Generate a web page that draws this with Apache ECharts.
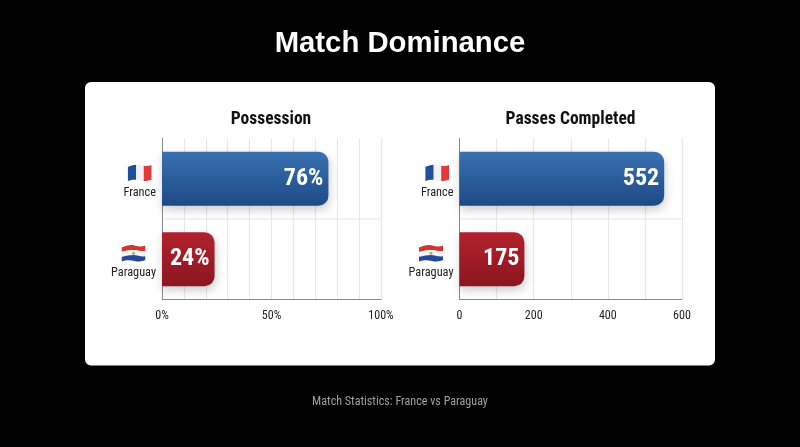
<!DOCTYPE html>
<html><head><meta charset="utf-8">
<style>html,body{margin:0;padding:0;background:#000}#c{width:800px;height:447px}</style>
<script src="https://cdn.jsdelivr.net/npm/echarts@6/dist/echarts.min.js"></script>
</head><body><div id="c"></div>
<script>
const categories = ['France', 'Paraguay'];
const possession = [76, 24];
const passes = [552, 175];
const possessionTicks = [0, 50, 100];
const passesTicks = [0, 200, 400, 600];
const COND = '"Roboto Condensed","Liberation Sans Narrow","Roboto",sans-serif';

const svg = s => 'data:image/svg+xml;charset=utf-8,' + encodeURIComponent(s);
const clip = '<clipPath id="w"><path d="M1 3.5C6 1.5 10 .5 14 1.5S21 3 25 1.5V16C21 17.5 18 18 14 17S6 15.5 1 17.5Z"/></clipPath>';
const frFlag = svg('<svg xmlns="http://www.w3.org/2000/svg" width="52" height="40" viewBox="0 0 26 19.5">' + clip +
  '<g clip-path="url(#w)"><rect width="9.5" height="20" fill="#1f4f9c"/><rect x="9.5" width="7.5" height="20" fill="#f2f2f4"/><rect x="17" width="9" height="20" fill="#e23a3a"/></g></svg>');
const pyFlag = svg('<svg xmlns="http://www.w3.org/2000/svg" width="52" height="40" viewBox="0 0 26 19.5">' + clip +
  '<g clip-path="url(#w)"><path d="M0 -1H26V7.2C20 7.8 17 6 13 6S5 7 0 8.2Z" fill="#d3362f"/><path d="M0 8.2C5 7 9 6 13 6S20 7.8 26 7.2V12.2C20 13 17 11 13 11S5 12 0 13Z" fill="#f4f4f6"/><path d="M0 13C5 12 9 11 13 11S20 13 26 12.2V20H0Z" fill="#24489a"/><circle cx="13" cy="9.2" r="1.5" fill="#b9a96a"/></g></svg>');

function catAxis(grid) {
  return {
    type: 'category', gridIndex: grid, data: categories, inverse: true,
    axisLine: { show: true, lineStyle: { color: '#8a8a8a', width: 1 } },
    axisTick: { show: false },
    splitLine: { show: true, showMinLine: false, showMaxLine: false, lineStyle: { color: '#eeeeee', width: 1.5 } },
    axisLabel: {
      margin: 6, align: 'right', verticalAlign: 'middle',
      formatter: v => '{gap|}\n{' + (v === 'France' ? 'fr' : 'py') + '|}\n{name|' + v + '}',
      rich: {
        gap: { height: 8, lineHeight: 8, fontSize: 1 },
        fr: { width: 26, height: 20, align: 'center', backgroundColor: { image: frFlag } },
        py: { width: 26, height: 20, align: 'center', backgroundColor: { image: pyFlag } },
        name: { fontFamily: COND, fontSize: 12.3, color: '#222', lineHeight: 19, align: 'right' }
      }
    }
  };
}
function valAxis(grid, max, step, ticks, suffix) {
  return {
    type: 'value', gridIndex: grid, min: 0, max: max, interval: step,
    axisLine: { show: true, lineStyle: { color: '#8a8a8a', width: 1 } },
    axisTick: { show: false },
    splitLine: { show: true, lineStyle: { color: '#e8e8e8', width: 1.2 } },
    axisLabel: {
      show: true, margin: 10, fontFamily: COND, fontSize: 12, color: '#222', hideOverlap: false,
      formatter: v => ticks.includes(v) ? v + suffix : ''
    }
  };
}
const grad = (a, b) => ({ type: 'linear', x: 0, y: 0, x2: 0, y2: 1, colorStops: [{ offset: 0, color: a }, { offset: 1, color: b }] });
const barColors = [grad('#3a71b1', '#1d4a86'), grad('#b2222c', '#8c1620')];
function series(idx, values, suffix) {
  return {
    type: 'bar', xAxisIndex: idx, yAxisIndex: idx, barWidth: 54, silent: true,
    data: values.map((v, i) => ({ value: v, itemStyle: { color: barColors[i] } })),
    itemStyle: { borderRadius: [0, 10, 10, 0], shadowColor: 'rgba(0,0,0,0.2)', shadowBlur: 10, shadowOffsetX: 1, shadowOffsetY: 4 },
    label: { show: true, position: 'insideRight', distance: 5, color: '#fff', fontFamily: COND, fontWeight: 'bold', fontSize: 24, formatter: p => p.value + suffix }
  };
}
const chart = echarts.init(document.getElementById('c'), null, { renderer: 'canvas' });
chart.setOption({
  animation: false,
  backgroundColor: '#000',
  graphic: [{ type: 'rect', z: -1, shape: { x: 85, y: 82, width: 630, height: 283.5, r: 6 }, style: { fill: '#fff' } }],
  title: [
    { text: 'Match Dominance', left: 400, top: 29, padding: 0, textAlign: 'center', textStyle: { color: '#fff', fontFamily: '"Liberation Sans",Arial,sans-serif', fontWeight: 700, fontSize: 29.3 } },
    { text: 'Possession', left: 271, top: 111, padding: 0, textAlign: 'center', textStyle: { color: '#111', fontFamily: COND, fontWeight: 'bold', fontSize: 17.5 } },
    { text: 'Passes Completed', left: 570.5, top: 111, padding: 0, textAlign: 'center', textStyle: { color: '#111', fontFamily: COND, fontWeight: 'bold', fontSize: 17.5 } },
    { text: 'Match Statistics: France vs Paraguay', left: 400, top: 396, padding: 0, textAlign: 'center', textStyle: { color: '#a0a0a0', fontFamily: COND, fontWeight: 'normal', fontSize: 12.1 } }
  ],
  grid: [
    { left: 162, width: 219, top: 138.5, height: 161 },
    { left: 459.5, width: 222.5, top: 138.5, height: 161 }
  ],
  xAxis: [valAxis(0, 100, 10, possessionTicks, '%'), valAxis(1, 600, 100, passesTicks, '')],
  yAxis: [catAxis(0), catAxis(1)],
  series: [series(0, possession, '%'), series(1, passes, '')]
});
</script></body></html>
